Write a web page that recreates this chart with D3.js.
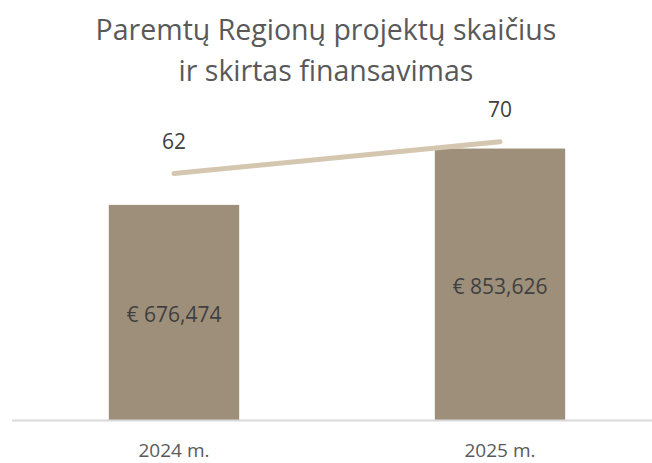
<!DOCTYPE html>
<html>
<head>
<meta charset="utf-8">
<script src="https://cdn.jsdelivr.net/npm/d3@7"></script>
<style>
  body { margin: 0; background: #fff; }
  svg { display: block; font-family: "Open Sans", sans-serif; }
</style>
</head>
<body>
<div id="chart"></div>
<script>
(function () {
    const width = 652;
    const height = 463;

    // data
    const years = ["2024 m.", "2025 m."];
    const funding = [676474, 853626];
    const projects = [62, 70];
    const titleLines = ["Paremtų Regionų projektų skaičius", "ir skirtas finansavimas"];

    const svg = d3.select("#chart").append("svg")
        .attr("width", width)
        .attr("height", height);

    // plot area
    const top = 102, bottom = 420, left = 11, right = 663;

    const x = d3.scaleBand().domain(years).range([left, right]).paddingInner(0.6).paddingOuter(0.3);
    const yBar = d3.scaleLinear().domain([0, 1000000]).range([bottom, top]);
    const yLine = d3.scaleLinear().domain([0, 80]).range([bottom, top]);

    // title
    svg.append("g").selectAll("text")
        .data(titleLines)
        .enter().append("text")
        .attr("x", 326)
        .attr("y", (d, i) => 40 + i * 41)
        .attr("text-anchor", "middle")
        .attr("fill", "#595959")
        .attr("font-size", 28.5)
        .text(d => d);

    // bars
    svg.append("g").selectAll("rect")
        .data(funding)
        .enter().append("rect")
        .attr("x", (d, i) => x(years[i]))
        .attr("y", d => yBar(d))
        .attr("width", x.bandwidth())
        .attr("height", d => bottom - yBar(d))
        .attr("fill", "#9e8f7b");

    // axis line
    svg.append("line")
        .attr("x1", 12).attr("x2", width)
        .attr("y1", bottom + 0.5).attr("y2", bottom + 0.5)
        .attr("stroke", "#d9d9d9")
        .attr("stroke-width", 2);

    // bar labels
    const fmt = d3.format(",");
    svg.append("g").selectAll("text")
        .data(funding)
        .enter().append("text")
        .attr("x", (d, i) => x(years[i]) + x.bandwidth() / 2)
        .attr("y", d => (yBar(d) + bottom) / 2 + 2)
        .attr("dy", "0.35em")
        .attr("text-anchor", "middle")
        .attr("fill", "#404040")
        .attr("font-size", 21)
        .text(d => "€ " + fmt(d));

    // line
    const line = d3.line()
        .x((d, i) => x(years[i]) + x.bandwidth() / 2)
        .y(d => yLine(d));

    svg.append("path")
        .datum(projects)
        .attr("d", line)
        .attr("fill", "none")
        .attr("stroke", "#d5c6b0")
        .attr("stroke-width", 5)
        .attr("stroke-linecap", "round");

    svg.append("g").selectAll("text")
        .data(projects)
        .enter().append("text")
        .attr("x", (d, i) => x(years[i]) + x.bandwidth() / 2)
        .attr("y", d => yLine(d) - 32)
        .attr("dy", "0.35em")
        .attr("text-anchor", "middle")
        .attr("fill", "#404040")
        .attr("font-size", 21)
        .text(d => d);

    // category labels
    svg.append("g").selectAll("text")
        .data(years)
        .enter().append("text")
        .attr("x", d => x(d) + x.bandwidth() / 2)
        .attr("y", 457)
        .attr("text-anchor", "middle")
        .attr("fill", "#595959")
        .attr("font-size", 19)
        .text(d => d);
})();
</script>
</body>
</html>
